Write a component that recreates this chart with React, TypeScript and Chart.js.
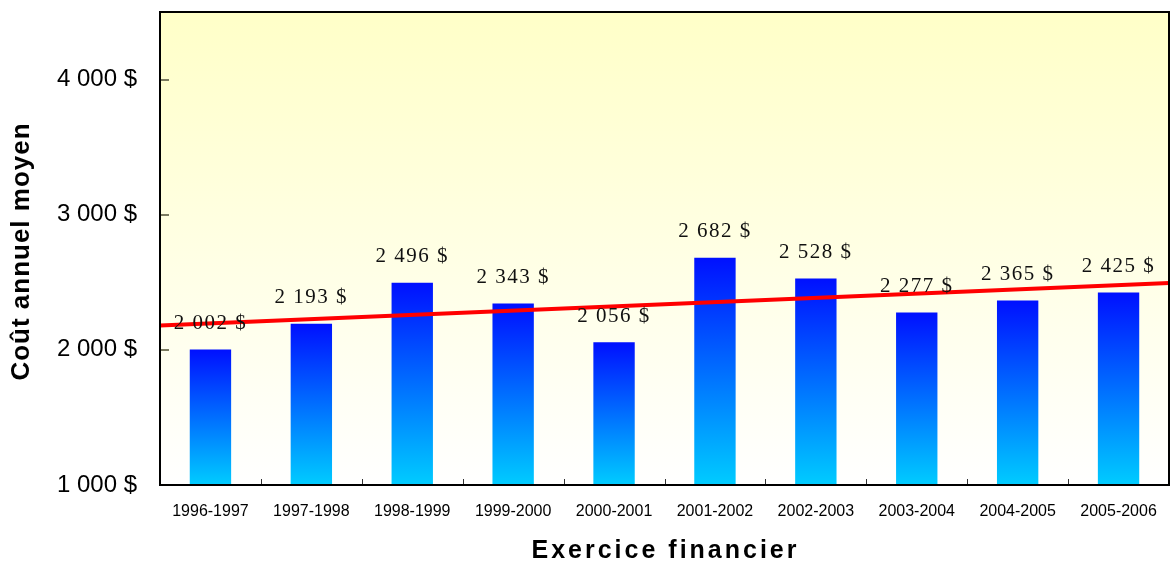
import React, { useEffect, useRef } from "react";
import { Chart, registerables } from "chart.js";

Chart.register(...registerables);

const categories = [
  "1996-1997", "1997-1998", "1998-1999", "1999-2000", "2000-2001",
  "2001-2002", "2002-2003", "2003-2004", "2004-2005", "2005-2006",
];
const costValues = [2002, 2193, 2496, 2343, 2056, 2682, 2528, 2277, 2365, 2425];
// trend line values at the left and right edges of the plot area
const trendEndpoints = [2180, 2495];
const yTicks = [1000, 2000, 3000, 4000];
const yMin = 1000;
const yMax = 4500;
const xTitle = "Exercice financier";
const yTitle = "Coût annuel moyen";

const fmt = (v: number) =>
  String(Math.round(v)).replace(/\B(?=(\d{3})+(?!\d))/g, " ") + " $";

const decorPlugin = {
  id: "decor",
  beforeDraw(chart: any) {
    const { ctx, chartArea: a } = chart;
    if (!a) return;
    ctx.save();
    const g = ctx.createLinearGradient(0, a.top, 0, a.bottom);
    g.addColorStop(0, "#FFFFC8");
    g.addColorStop(1, "#FFFFFF");
    ctx.fillStyle = g;
    ctx.fillRect(a.left, a.top, a.right - a.left, a.bottom - a.top);
    ctx.restore();
  },
  afterDatasetsDraw(chart: any) {
    const { ctx, chartArea: a, scales } = chart;
    if (!a) return;
    ctx.save();
    ctx.strokeStyle = "#FF0000";
    ctx.lineWidth = 4;
    ctx.beginPath();
    ctx.moveTo(a.left, scales.y.getPixelForValue(trendEndpoints[0]));
    ctx.lineTo(a.right, scales.y.getPixelForValue(trendEndpoints[1]));
    ctx.stroke();
    ctx.restore();
  },
  afterDraw(chart: any) {
    const { ctx, chartArea: a, scales } = chart;
    if (!a) return;
    ctx.save();
    // data labels
    ctx.font = "21px 'Liberation Serif', 'Times New Roman', serif";
    (ctx as any).letterSpacing = "1.5px";
    ctx.fillStyle = "#111";
    ctx.textAlign = "center";
    ctx.textBaseline = "middle";
    const meta = chart.getDatasetMeta(0);
    meta.data.forEach((bar: any, i: number) => {
      ctx.fillText(fmt(costValues[i]), bar.x, bar.y - 26);
    });
    (ctx as any).letterSpacing = "0px";
    // y tick marks inside
    ctx.strokeStyle = "#7a7a60";
    ctx.lineWidth = 2;
    yTicks.forEach((v) => {
      const y = Math.round(scales.y.getPixelForValue(v));
      ctx.beginPath();
      ctx.moveTo(a.left, y);
      ctx.lineTo(a.left + 9, y);
      ctx.stroke();
    });
    // x tick marks at category boundaries
    ctx.strokeStyle = "#333";
    ctx.lineWidth = 1;
    for (let i = 1; i < categories.length; i++) {
      const x =
        Math.round(
          (scales.x.getPixelForValue(i - 1) + scales.x.getPixelForValue(i)) / 2
        ) + 0.5;
      ctx.beginPath();
      ctx.moveTo(x, a.bottom);
      ctx.lineTo(x, a.bottom - 6);
      ctx.stroke();
    }
    // frame
    ctx.strokeStyle = "#000";
    ctx.lineWidth = 2;
    ctx.strokeRect(a.left, a.top, a.right - a.left, a.bottom - a.top);
    // titles
    ctx.fillStyle = "#000";
    ctx.font = "bold 25px 'Liberation Sans', Arial, sans-serif";
    (ctx as any).letterSpacing = "3px";
    ctx.textAlign = "center";
    ctx.textBaseline = "middle";
    ctx.fillText(xTitle, (a.left + a.right) / 2 + 1, 551);
    (ctx as any).letterSpacing = "1px";
    ctx.font = "bold 26px 'Liberation Sans', Arial, sans-serif";
    ctx.translate(22, (a.top + a.bottom) / 2 + 3);
    ctx.rotate(-Math.PI / 2);
    ctx.fillText(yTitle, 0, 0);
    ctx.restore();
  },
};

export default function App() {
  const ref = useRef<HTMLCanvasElement | null>(null);
  useEffect(() => {
    document.body.style.margin = "0";
    const canvas = ref.current;
    if (!canvas) return;
    const chart = new Chart(canvas, {
      type: "bar",
      data: {
        labels: categories,
        datasets: [
          {
            data: costValues,
            backgroundColor: (c: any) => {
              const ch = c.chart;
              const a = ch.chartArea;
              if (!a || c.parsed == null || c.type !== "data") return "#0066FF";
              const yt = ch.scales.y.getPixelForValue(c.parsed.y);
              const yb = ch.scales.y.getPixelForValue(yMin);
              const g = ch.ctx.createLinearGradient(0, yt, 0, yb);
              g.addColorStop(0, "#0010FF");
              g.addColorStop(1, "#00CCFF");
              return g;
            },
            borderWidth: 0,
            categoryPercentage: 1,
            barPercentage: 0.41,
          },
        ],
      },
      options: {
        responsive: false,
        maintainAspectRatio: false,
        animation: false,
        devicePixelRatio: 1,
        layout: { padding: { top: 12, right: 1, left: 0, bottom: 0 } },
        plugins: {
          legend: { display: false },
          tooltip: { enabled: false },
          title: { display: false },
        },
        scales: {
          x: {
            type: "category",
            offset: true,
            grid: { display: false, drawTicks: false },
            border: { display: false },
            ticks: {
              color: "#000",
              font: { family: "'Liberation Sans', Arial, sans-serif", size: 16 },
              padding: 17,
              autoSkip: false,
              maxRotation: 0,
            },
            afterFit: (s: any) => {
              s.height = 77;
              s.paddingLeft = 0;
              s.paddingRight = 0;
              s.paddingTop = 0;
              s.paddingBottom = 0;
            },
          },
          y: {
            min: yMin,
            max: yMax,
            grid: { display: false, drawTicks: false },
            border: { display: false },
            afterBuildTicks: (s: any) => {
              s.ticks = yTicks.map((v) => ({ value: v }));
            },
            ticks: {
              autoSkip: false,
              color: "#000",
              font: { family: "'Liberation Sans', Arial, sans-serif", size: 24 },
              padding: 23,
              callback: (v: any) => fmt(Number(v)),
            },
            afterFit: (s: any) => {
              s.width = 160;
              s.paddingLeft = 0;
              s.paddingRight = 0;
              s.paddingTop = 0;
              s.paddingBottom = 0;
            },
          },
        },
      } as any,
      plugins: [decorPlugin],
    });
    return () => chart.destroy();
  }, []);
  return (
    <div style={{ width: 1170, height: 562 }}>
      <canvas ref={ref} width={1170} height={562} style={{ display: "block" }} />
    </div>
  );
}
